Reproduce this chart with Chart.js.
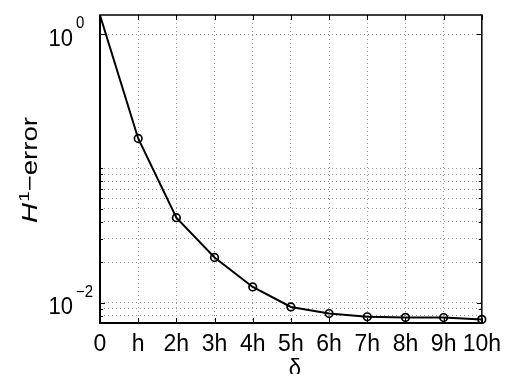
<!DOCTYPE html>
<html>
<head>
<meta charset="utf-8">
<script src="https://cdn.jsdelivr.net/npm/chart.js@4.4.1/dist/chart.umd.min.js"></script>
<style>
  html, body { margin: 0; padding: 0; background: #fff; }
  #chart { display: block; }
</style>
</head>
<body>
<canvas id="chart" width="509" height="374"></canvas>
<script>
// values
const categories = ['0', 'h', '2h', '3h', '4h', '5h', '6h', '7h', '8h', '9h', '10h'];
const errorValues = [1.38, 0.167, 0.0429, 0.0217, 0.0131, 0.0093, 0.0083, 0.00785, 0.00777, 0.00775, 0.00751];
const yGridValues = [0.008, 0.009, 0.01, 0.02, 0.03, 0.04, 0.05, 0.06, 0.07, 0.08, 0.09, 0.1, 1];
const yTickValues = [1, 0.01];
const yTickExponents = ['0', '\u22122'];
const yMin = 0.00706;
const yMax = 1.385;

const FONT = "'Liberation Sans', Arial, Helvetica, sans-serif";

// text, box and inward ticks the way MATLAB draws them
const matlabAxes = {
  id: 'matlabAxes',
  beforeDatasetsDraw(chart) {
    const ctx = chart.ctx;
    const a = chart.chartArea;
    const x = chart.scales.x;
    const y = chart.scales.y;
    ctx.save();
    ctx.strokeStyle = '#000';
    ctx.lineWidth = 1;
    ctx.beginPath();
    categories.forEach((c, i) => {
      const px = Math.round(x.getPixelForValue(i)) + 0.5;
      ctx.moveTo(px, a.top); ctx.lineTo(px, a.top + 5);
      ctx.moveTo(px, a.bottom); ctx.lineTo(px, a.bottom - 5);
    });
    yGridValues.forEach(v => {
      const py = Math.round(y.getPixelForValue(v)) + 0.5;
      const len = yTickValues.includes(v) ? 5 : 3;
      ctx.moveTo(a.left, py); ctx.lineTo(a.left + len, py);
      ctx.moveTo(a.right, py); ctx.lineTo(a.right - len, py);
    });
    ctx.stroke();
    ctx.lineWidth = 1.5;
    ctx.strokeRect(a.left, a.top, a.right - a.left, a.bottom - a.top);
    ctx.lineWidth = 2;
    ctx.beginPath();
    ctx.moveTo(a.left, a.top); ctx.lineTo(a.left, a.bottom); ctx.lineTo(a.right, a.bottom);
    ctx.stroke();
    ctx.restore();
  },
  afterDraw(chart) {
    const ctx = chart.ctx;
    const a = chart.chartArea;
    const y = chart.scales.y;
    ctx.save();
    ctx.fillStyle = '#000';
    ctx.textBaseline = 'alphabetic';

    // y tick labels 10^n (the original is a little taller than wide)
    yTickValues.forEach((v, i) => {
      const py = y.getPixelForValue(v);
      ctx.save();
      ctx.translate(0, py + 11.5);
      ctx.scale(1, 1.1);
      ctx.font = '22px ' + FONT;
      ctx.textAlign = 'right';
      const baseRight = 73;
      ctx.fillText('10', baseRight, 0);
      ctx.font = '15px ' + FONT;
      ctx.textAlign = 'left';
      ctx.fillText(yTickExponents[i], baseRight + 3, -16);
      ctx.restore();
    });

    // y title: H^1-error, stretched along its length like the original
    ctx.save();
    ctx.translate(36.5, 170);
    ctx.rotate(-Math.PI / 2);
    const fH = 'italic 22px ' + FONT, fS = '15px ' + FONT, fM = '22px ' + FONT;
    ctx.font = fH; const wH = ctx.measureText('H').width;
    ctx.font = fS; const wS = ctx.measureText('1').width;
    ctx.font = fM; const wM = ctx.measureText('\u2212error').width;
    const total = wH + wS + wM + 1;
    ctx.scale(106 / total, 1);
    let cx = -total / 2;
    ctx.textAlign = 'left';
    ctx.font = fH; ctx.fillText('H', cx, 0); cx += wH + 1;
    ctx.font = fS; ctx.fillText('1', cx, -8); cx += wS;
    ctx.font = fM; ctx.fillText('\u2212error', cx, 0);
    ctx.restore();

    // x title
    ctx.save();
    ctx.translate((a.left + a.right) / 2 + 4, 376);
    ctx.scale(1, 1.1);
    ctx.font = '22px ' + FONT;
    ctx.textAlign = 'center';
    ctx.fillText('\u03b4', 0, 0);
    ctx.restore();
    ctx.restore();
  }
};

new Chart(document.getElementById('chart'), {
  type: 'line',
  data: {
    labels: categories,
    datasets: [{
      data: errorValues,
      borderColor: '#000',
      borderWidth: 2,
      tension: 0,
      pointRadius: errorValues.map((v, i) => i === 0 ? 0 : 3.8),
      pointBorderWidth: 1.7,
      pointBorderColor: '#000',
      pointBackgroundColor: 'rgba(0,0,0,0)',
      clip: false
    }]
  },
  options: {
    responsive: false,
    animation: false,
    devicePixelRatio: 1,
    layout: { padding: { left: 0, right: 23, top: 15, bottom: 0 } },
    plugins: { legend: { display: false }, tooltip: { enabled: false }, title: { display: false } },
    scales: {
      x: {
        type: 'category',
        offset: false,
        afterFit(s) { s.height = 51; },
        grid: { color: '#9a9a9a', lineWidth: 1, drawTicks: false, borderDash: [1, 3] },
        border: { display: false, dash: [1, 3] },
        ticks: { color: '#000', font: { family: FONT, size: 23 }, padding: 8, maxRotation: 0, autoSkip: false }
      },
      y: {
        type: 'logarithmic',
        min: yMin,
        max: yMax,
        bounds: 'data',
        afterFit(s) { s.width = 100; },
        afterBuildTicks(s) { s.ticks = yGridValues.map(v => ({ value: v })); },
        grid: { color: '#9a9a9a', lineWidth: 1, drawTicks: false, borderDash: [1, 3] },
        border: { display: false, dash: [1, 3] },
        ticks: { display: false }
      }
    }
  },
  plugins: [matlabAxes]
});
</script>
</body>
</html>
